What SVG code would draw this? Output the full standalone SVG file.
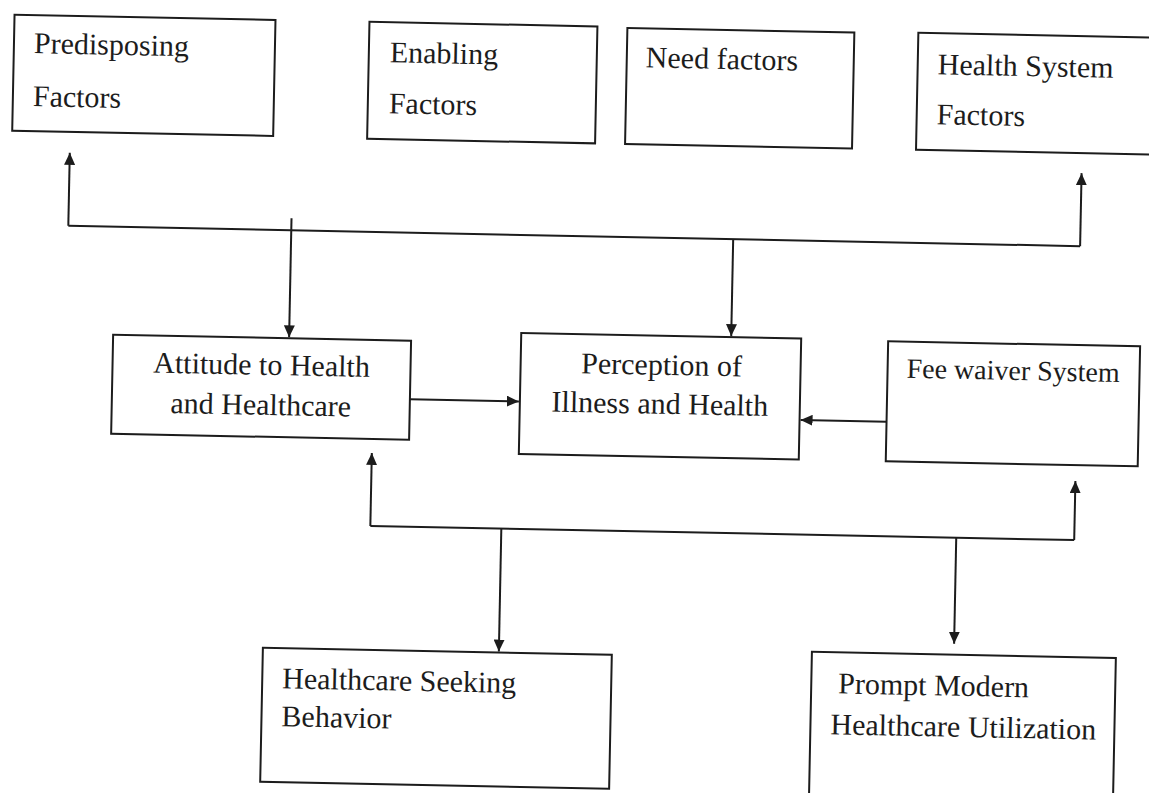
<svg xmlns="http://www.w3.org/2000/svg" width="1149" height="793" viewBox="0 0 1149 793">
  <defs>
    <marker id="arr" markerWidth="12" markerHeight="11" refX="12" refY="5.5" orient="auto" markerUnits="userSpaceOnUse">
      <path d="M0,0 L12,5.5 L0,11 z" fill="#1c1c1c"/>
    </marker>
  </defs>
  <style>
    .box { fill: #ffffff; stroke: #1c1c1c; stroke-width: 2; }
    .lbl { font-family: "Liberation Serif", "Times New Roman", serif; font-size: 30px; fill: #1c1c1c; }
    .ctr { text-anchor: middle; }
    .con { fill: none; stroke: #1c1c1c; stroke-width: 2; }
    .arr { marker-end: url(#arr); }
  </style>
  <rect x="0" y="0" width="1149" height="793" fill="#ffffff"/>
  <g transform="rotate(1.15 574 396)">
    <g id="predisposing">
      <rect class="box" x="7" y="26" width="261" height="116"/>
      <text class="lbl" x="27" y="64">Predisposing</text>
      <text class="lbl" x="27" y="117">Factors</text>
    </g>
    <g id="enabling">
      <rect class="box" x="362" y="26" width="228" height="117"/>
      <text class="lbl" x="383" y="66">Enabling</text>
      <text class="lbl" x="383" y="117">Factors</text>
    </g>
    <g id="need">
      <rect class="box" x="620" y="27" width="227" height="116"/>
      <text class="lbl" x="639" y="66">Need factors</text>
    </g>
    <g id="healthsystem">
      <rect class="box" x="911" y="26" width="260" height="117"/>
      <text class="lbl" x="931" y="67">Health System</text>
      <text class="lbl" x="931" y="117">Factors</text>
    </g>
    <g id="attitude">
      <rect class="box" x="112" y="344" width="298" height="99"/>
      <text class="lbl ctr" x="261" y="381">Attitude to Health</text>
      <text class="lbl ctr" x="261" y="421">and Healthcare</text>
    </g>
    <g id="perception">
      <rect class="box" x="520" y="334" width="280" height="121"/>
      <text class="lbl ctr" x="661" y="373">Perception of</text>
      <text class="lbl ctr" x="660" y="412">Illness and Health</text>
    </g>
    <g id="feewaiver">
      <rect class="box" x="887" y="335" width="252" height="120"/>
      <text class="lbl" x="906" y="371" style="font-size:28px">Fee waiver System</text>
    </g>
    <g id="seeking">
      <rect class="box" x="268" y="654" width="349" height="134"/>
      <text class="lbl" x="288" y="694">Healthcare Seeking</text>
      <text class="lbl" x="288" y="732">Behavior</text>
    </g>
    <g id="prompt">
      <rect class="box" x="817" y="647" width="304" height="180"/>
      <text class="lbl" x="844" y="688">Prompt Modern</text>
      <text class="lbl" x="837" y="729">Healthcare Utilization</text>
    </g>
    <g id="connectors">
      <path class="con" d="M65,236 H1077"/>
      <path class="con arr" d="M65,236 V163"/>
      <path class="con arr" d="M1077,236 V163"/>
      <path class="con arr" d="M288,224 V343"/>
      <path class="con arr" d="M730,236 V333"/>
      <path class="con arr" d="M410,402.5 H519"/>
      <path class="con arr" d="M887,415.5 H801"/>
      <path class="con" d="M373,530 H1077"/>
      <path class="con arr" d="M373,530 V457"/>
      <path class="con arr" d="M1077,530 V471"/>
      <path class="con arr" d="M504,530 V653"/>
      <path class="con arr" d="M959,530 V636"/>
    </g>
  </g>
</svg>
